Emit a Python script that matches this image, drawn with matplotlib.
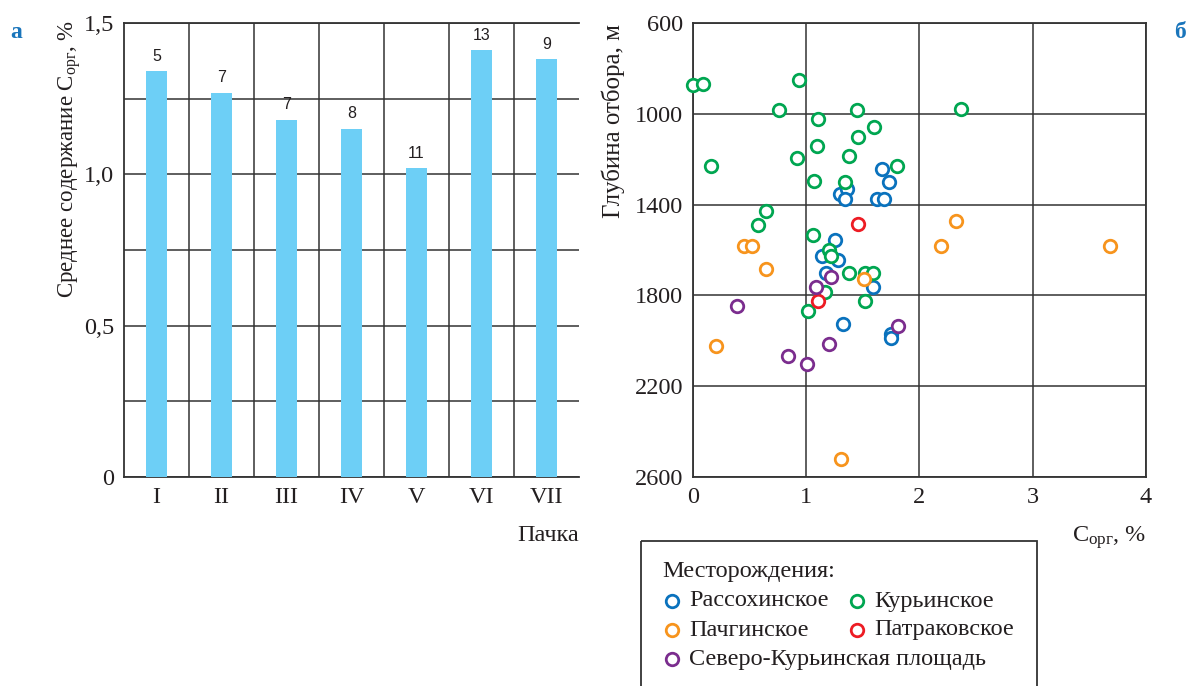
import matplotlib
matplotlib.use('Agg')
import matplotlib.pyplot as plt
from matplotlib.lines import Line2D
from matplotlib.patches import Rectangle

plt.rcParams['font.family'] = ['Liberation Serif', 'DejaVu Serif']
plt.rcParams['mathtext.fontset'] = 'custom'
plt.rcParams['mathtext.rm'] = 'Liberation Serif'

# --- panel a: mean Corg by unit
packs = ['I', 'II', 'III', 'IV', 'V', 'VI', 'VII']
mean_corg = [1.34, 1.27, 1.18, 1.15, 1.02, 1.41, 1.38]
n_samples = [5, 7, 7, 8, 11, 13, 9]

# --- panel b: Corg vs sampling depth, per field
ras_x = [1.67, 1.73, 1.30, 1.36, 1.34, 1.63, 1.69, 1.26, 1.14, 1.28, 1.18, 1.59, 1.33, 1.75, 1.75]
ras_y = [1241, 1300, 1353, 1332, 1375, 1375, 1375, 1555, 1626, 1645, 1702, 1763, 1925, 1968, 1989]
kur_x = [0.00, 0.09, 0.94, 0.76, 1.45, 2.37, 1.11, 1.60, 1.46, 1.10, 1.38, 0.16, 0.92, 1.80,
         1.07, 1.34, 0.65, 0.58, 1.06, 1.20, 1.22, 1.38, 1.52, 1.59, 1.17, 1.52, 1.02]
kur_y = [874, 867, 852, 984, 984, 978, 1025, 1059, 1103, 1143, 1188, 1228, 1194, 1232,
         1294, 1301, 1430, 1489, 1533, 1598, 1627, 1702, 1702, 1702, 1786, 1824, 1869]
pach_x = [2.32, 2.19, 0.45, 0.52, 3.68, 0.65, 1.51, 0.21, 1.31]
pach_y = [1473, 1584, 1584, 1584, 1584, 1682, 1727, 2022, 2520]
patr_x = [1.46, 1.11]
patr_y = [1487, 1824]
sev_x = [1.22, 1.09, 0.39, 1.81, 1.20, 0.84, 1.01]
sev_y = [1719, 1763, 1847, 1933, 2014, 2067, 2104]

fields = ['Рассохинское', 'Курьинское', 'Пачгинское', 'Патраковское',
          'Северо-Курьинская площадь']
colors = ['#0a72bd', '#00a651', '#f7941d', '#ed1c24', '#7b2d8e']
series = [(ras_x, ras_y), (kur_x, kur_y), (pach_x, pach_y), (patr_x, patr_y), (sev_x, sev_y)]

W, H = 1197, 686
fig = plt.figure(figsize=(W / 100, H / 100), dpi=100)
grid_c = '#333333'
txt_c = '#231f20'
fs = 17.5

# ---------------- panel a
ax1 = fig.add_axes([124 / W, 1 - 477 / H, 455 / W, 454 / H])
xs = list(range(len(packs)))
ax1.bar(xs, mean_corg, width=0.32, color='#6dcff6', zorder=3)
for x, v, n in zip(xs, mean_corg, n_samples):
    ax1.text(x, v + 0.025, str(n), ha='center', va='bottom', fontsize=11.5,
             family='Liberation Sans', color=txt_c)
ax1.set_xlim(-0.5, 6.5)
ax1.set_ylim(0, 1.5)
ax1.set_xticks(xs)
ax1.set_xticklabels(packs)
ax1.set_xticks([i + 0.5 for i in range(6)], minor=True)
ax1.set_yticks([0, 0.5, 1.0, 1.5])
ax1.set_yticklabels(['0', '0,5', '1,0', '1,5'])
ax1.set_yticks([0.25, 0.75, 1.25], minor=True)
ax1.grid(True, which='both', color=grid_c, lw=1.1, zorder=1)
ax1.grid(False, which='major', axis='x')
ax1.tick_params(which='both', length=0, labelsize=fs, pad=7, colors=txt_c)
for s in ['left', 'bottom', 'top']:
    ax1.spines[s].set_color(grid_c)
    ax1.spines[s].set_linewidth(1.3)
ax1.spines['right'].set_visible(False)
ax1.set_ylabel('Среднее содержание $\\mathregular{C_{орг}}$, %', fontsize=16.5, color=txt_c)
ax1.yaxis.set_label_coords(-0.09, 0.70)
ax1.set_xlabel('Пачка', fontsize=fs, ha='right', color=txt_c)
ax1.xaxis.set_label_coords(1.0, -0.105)

# ---------------- panel b
ax2 = fig.add_axes([692.7 / W, 1 - 477 / H, 453.3 / W, 454 / H])
for (sx, sy), c in zip(series, colors):
    ax2.plot(sx, sy, 'o', ms=9, mfc='white', mec=c, mew=2, zorder=3, clip_on=False)
ax2.set_xlim(0, 4)
ax2.set_ylim(2600, 600)
ax2.set_xticks([0, 1, 2, 3, 4])
ax2.set_yticks([600, 1000, 1400, 1800, 2200, 2600])
ax2.grid(True, color=grid_c, lw=1.1, zorder=1)
ax2.tick_params(length=0, labelsize=fs, pad=7, colors=txt_c)
for s in ax2.spines.values():
    s.set_color(grid_c)
    s.set_linewidth(1.3)
ax2.set_ylabel('Глубина отбора, м', fontsize=18, color=txt_c)
ax2.yaxis.set_label_coords(-0.15, 0.785)
ax2.set_xlabel('$\\mathregular{C_{орг}}$, %', fontsize=fs, ha='right', color=txt_c)
ax2.xaxis.set_label_coords(1.0, -0.105)

# panel letters
fig.text(10 / W, 1 - 32 / H, 'а', color='#1a75bb', fontsize=17, weight='bold', va='center')
fig.text(1174 / W, 1 - 32 / H, 'б', color='#1a75bb', fontsize=17, weight='bold', va='center')

# ---------------- legend box (open at the bottom)
lax = fig.add_axes([0, 0, 1, 1])
lax.set_xlim(0, W)
lax.set_ylim(H, 0)
lax.axis('off')
lax.add_patch(Rectangle((641, 541), 396, 160, fill=False, ec=grid_c, lw=1.3, clip_on=False))
lax.text(662, 572, 'Месторождения:', fontsize=fs, va='center', color=txt_c)
slots = [(672, 601), (857, 601), (672, 630), (857, 630), (672, 659)]
for (px, py), name, c in zip(slots, fields, colors):
    lax.add_line(Line2D([px], [py], marker='o', ms=9, mfc='white', mec=c, mew=2))
    lax.text(px + 17, py, name, fontsize=fs, va='center', color=txt_c)

fig.savefig('out.png', dpi=100)
